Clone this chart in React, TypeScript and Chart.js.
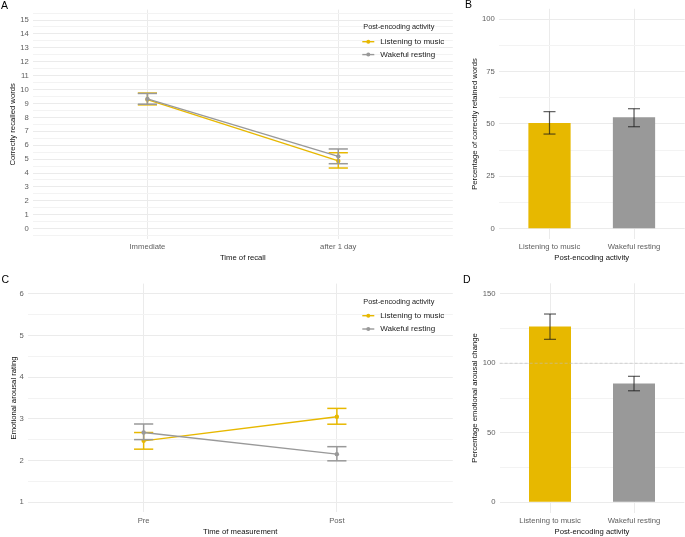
import React, { useEffect, useRef } from "react";
import { Chart, registerables } from "chart.js";

Chart.register(...registerables);

const FONT_FAMILY = "'Liberation Sans', Arial, Helvetica, sans-serif";
const YELLOW = "#E7B800";
const GREY = "#999999";
const MAJOR_GRID = "#EBEBEB";
const MINOR_GRID = "#F3F3F3";
const TICK_COLOR = "#5E5E5E";
const TITLE_COLOR = "#111111";

// Shared
const seriesNames = ["Listening to music", "Wakeful resting"];
const legendTitle = "Post-encoding activity";
const xCommonRange = [0.4, 2.6];

// Panel A – correctly recalled words
const recallTimes = ["Immediate", "after 1 day"];
const recallMusicMean = [9.28, 4.87];
const recallMusicLow = [8.9, 4.36];
const recallMusicHigh = [9.75, 5.46];
const recallRestMean = [9.33, 5.2];
const recallRestLow = [8.95, 4.67];
const recallRestHigh = [9.72, 5.73];
const recallTicks = [0, 1, 2, 3, 4, 5, 6, 7, 8, 9, 10, 11, 12, 13, 14, 15];

// Panel B – percentage of correctly retained words
const activityLabels = ["Listening to music", "Wakeful resting"];
const retainedMean = [50.5, 53.2];
const retainedLow = [45.2, 48.7];
const retainedHigh = [55.9, 57.3];
const retainedTicks = [0, 25, 50, 75, 100];

// Panel C – emotional arousal rating
const measureTimes = ["Pre", "Post"];
const arousalMusicMean = [2.47, 3.05];
const arousalMusicLow = [2.27, 2.87];
const arousalMusicHigh = [2.67, 3.25];
const arousalRestMean = [2.67, 2.15];
const arousalRestLow = [2.5, 1.99];
const arousalRestHigh = [2.875, 2.33];
const arousalTicks = [1, 2, 3, 4, 5, 6];

// Panel D – percentage emotional arousal change
const changeMean = [126.5, 85.5];
const changeLow = [117.2, 80.2];
const changeHigh = [135.4, 90.6];
const changeTicks = [0, 50, 100, 150];
const changeReference = 100;

type Box = {
  w: number;
  h: number;
  left: number;
  right: number;
  top: number;
  bottom: number;
  yTitlePad: number;
  xTitlePad: number;
};

function expandedRange(ticks: number[]): [number, number] {
  const lo = ticks[0];
  const hi = ticks[ticks.length - 1];
  const e = (hi - lo) * 0.05;
  return [lo - e, hi + e];
}

function gridValues(major: number[], min: number, max: number): number[] {
  const step = major[1] - major[0];
  const out = [...major];
  for (let v = major[0] - step / 2; v <= max; v += step) {
    if (v >= min) out.push(v);
  }
  return out.sort((a, b) => a - b);
}

function buildScales(box: Box, xLabels: string[], yMajor: number[], yTitle: string, xTitle: string) {
  const [ymin, ymax] = expandedRange(yMajor);
  const majorSet = new Set(yMajor);
  const font = { family: FONT_FAMILY, size: 7.7 };
  return {
    x: {
      type: "linear",
      min: xCommonRange[0],
      max: xCommonRange[1],
      offset: false,
      afterBuildTicks: (s: any) => {
        s.ticks = xLabels.map((_, i) => ({ value: i + 1 }));
      },
      afterFit: (s: any) => {
        s.height = box.h - box.bottom;
      },
      ticks: {
        callback: (v: any) => xLabels[Math.round(Number(v)) - 1] ?? "",
        color: TICK_COLOR,
        font,
        padding: 3.5,
        maxRotation: 0,
        autoSkip: false,
      },
      grid: { color: MAJOR_GRID, lineWidth: 1, drawTicks: false, offset: false },
      border: { display: false },
      title: {
        display: true,
        text: xTitle,
        color: TITLE_COLOR,
        font,
        padding: { top: 0, bottom: box.xTitlePad },
      },
    },
    y: {
      type: "linear",
      min: ymin,
      max: ymax,
      afterBuildTicks: (s: any) => {
        s.ticks = gridValues(yMajor, ymin, ymax).map((v) => ({ value: v }));
      },
      afterFit: (s: any) => {
        s.width = box.left;
      },
      ticks: {
        callback: (v: any) => (majorSet.has(Number(v)) ? String(v) : ""),
        color: TICK_COLOR,
        font,
        padding: 4,
        autoSkip: false,
      },
      grid: {
        color: (c: any) => (c.tick && majorSet.has(c.tick.value) ? MAJOR_GRID : MINOR_GRID),
        lineWidth: 1,
        drawTicks: false,
      },
      border: { display: false },
      title: {
        display: true,
        text: yTitle,
        color: TITLE_COLOR,
        font,
        padding: { top: box.yTitlePad, bottom: 0 },
      },
    },
  };
}

const errorBarPlugin = {
  id: "errorBars",
  afterDatasetDraw(chart: any, args: any) {
    const ds = chart.data.datasets[args.index];
    const eb = ds && ds.errorBars;
    if (!eb) return;
    const { ctx } = chart;
    const x = chart.scales.x;
    const y = chart.scales.y;
    ctx.save();
    ctx.strokeStyle = eb.color;
    ctx.lineWidth = eb.lineWidth;
    ds.data.forEach((p: any, j: number) => {
      const px = x.getPixelForValue(p.x);
      const pl = y.getPixelForValue(eb.low[j]);
      const ph = y.getPixelForValue(eb.high[j]);
      ctx.beginPath();
      ctx.moveTo(px, pl);
      ctx.lineTo(px, ph);
      ctx.stroke();
      ctx.beginPath();
      ctx.moveTo(px - eb.halfWidth, pl);
      ctx.lineTo(px + eb.halfWidth, pl);
      ctx.stroke();
      ctx.beginPath();
      ctx.moveTo(px - eb.halfWidth, ph);
      ctx.lineTo(px + eb.halfWidth, ph);
      ctx.stroke();
    });
    ctx.restore();
  },
};

function tagPlugin(letter: string, x: number, y: number) {
  return {
    id: "panelTag",
    afterDraw(chart: any) {
      const { ctx } = chart;
      ctx.save();
      ctx.fillStyle = "#000";
      ctx.font = `10.5px ${FONT_FAMILY}`;
      ctx.textAlign = "left";
      ctx.textBaseline = "alphabetic";
      ctx.fillText(letter, x, y);
      ctx.restore();
    },
  };
}

function legendPlugin(x: number, titleY: number, itemYs: number[], colors: string[]) {
  return {
    id: "panelLegend",
    afterDraw(chart: any) {
      const { ctx } = chart;
      ctx.save();
      ctx.textBaseline = "middle";
      ctx.textAlign = "left";
      ctx.fillStyle = "#222";
      ctx.font = `7.3px ${FONT_FAMILY}`;
      ctx.fillText(legendTitle, x, titleY);
      ctx.font = `8px ${FONT_FAMILY}`;
      seriesNames.forEach((name, i) => {
        const yy = itemYs[i];
        ctx.strokeStyle = colors[i];
        ctx.lineWidth = 1.4;
        ctx.beginPath();
        ctx.moveTo(x - 1, yy);
        ctx.lineTo(x + 11, yy);
        ctx.stroke();
        ctx.fillStyle = colors[i];
        ctx.beginPath();
        ctx.arc(x + 5, yy, 2, 0, Math.PI * 2);
        ctx.fill();
        ctx.fillStyle = "#222";
        ctx.fillText(name, x + 17, yy);
      });
      ctx.restore();
    },
  };
}

const referenceLinePlugin = {
  id: "referenceLine",
  afterDatasetsDraw(chart: any) {
    const { ctx, chartArea } = chart;
    const py = chart.scales.y.getPixelForValue(changeReference);
    ctx.save();
    ctx.strokeStyle = "rgba(190,190,190,0.6)";
    ctx.lineWidth = 1.1;
    ctx.setLineDash([3, 2]);
    ctx.beginPath();
    ctx.moveTo(chartArea.left, py);
    ctx.lineTo(chartArea.right, py);
    ctx.stroke();
    ctx.restore();
  },
};

function lineDataset(label: string, mean: number[], low: number[], high: number[], color: string, order: number) {
  return {
    type: "line",
    label,
    data: mean.map((v, i) => ({ x: i + 1, y: v })),
    borderColor: color,
    backgroundColor: color,
    borderWidth: 1.4,
    pointRadius: 2.2,
    pointBorderWidth: 0,
    pointHoverRadius: 0,
    order,
    errorBars: { low, high, color, lineWidth: 1.5, halfWidth: 9.6 },
  };
}

function barDataset(mean: number[], low: number[], high: number[]) {
  return {
    type: "bar",
    label: "mean",
    data: mean.map((v, i) => ({ x: i + 1, y: v })),
    backgroundColor: [YELLOW, GREY],
    borderWidth: 0,
    barPercentage: 0.5,
    categoryPercentage: 1,
    errorBars: { low, high, color: "rgba(25,25,25,0.7)", lineWidth: 1.2, halfWidth: 6 },
  };
}

function baseOptions(box: Box, scales: any) {
  return {
    responsive: false,
    maintainAspectRatio: false,
    animation: false,
    devicePixelRatio: 1,
    events: [],
    layout: { padding: { left: 0, top: box.top, right: box.w - box.right, bottom: 0 } },
    plugins: { legend: { display: false }, tooltip: { enabled: false } },
    scales,
  };
}

const boxA: Box = { w: 455, h: 265, left: 32.9, right: 453.8, top: 9.6, bottom: 239.1, yTitlePad: 8.4, xTitlePad: 2.4 };
const boxB: Box = { w: 230, h: 265, left: 43.8, right: 229.7, top: 8.8, bottom: 239.2, yTitlePad: 15.4, xTitlePad: 2.4 };
const boxC: Box = { w: 455, h: 272, left: 27.7, right: 455, top: 18.6, bottom: 247.4, yTitlePad: 9.2, xTitlePad: 0.7 };
const boxD: Box = { w: 230, h: 272, left: 44.6, right: 229.4, top: 18.3, bottom: 247.7, yTitlePad: 15.4, xTitlePad: 0.7 };

export default function App() {
  const refA = useRef<HTMLCanvasElement>(null);
  const refB = useRef<HTMLCanvasElement>(null);
  const refC = useRef<HTMLCanvasElement>(null);
  const refD = useRef<HTMLCanvasElement>(null);

  useEffect(() => {
    const charts: Chart[] = [];

    charts.push(
      new Chart(refA.current as HTMLCanvasElement, {
        type: "line",
        data: {
          datasets: [
            lineDataset(seriesNames[0], recallMusicMean, recallMusicLow, recallMusicHigh, YELLOW, 1),
            lineDataset(seriesNames[1], recallRestMean, recallRestLow, recallRestHigh, GREY, 0),
          ] as any,
        },
        options: baseOptions(boxA, buildScales(boxA, recallTimes, recallTicks, "Correctly recalled words", "Time of recall")) as any,
        plugins: [errorBarPlugin, legendPlugin(363.3, 27, [41.7, 54.6], [YELLOW, GREY]), tagPlugin("A", 1, 8.6)],
      })
    );

    charts.push(
      new Chart(refB.current as HTMLCanvasElement, {
        type: "bar",
        data: { datasets: [barDataset(retainedMean, retainedLow, retainedHigh)] as any },
        options: baseOptions(
          boxB,
          buildScales(boxB, activityLabels, retainedTicks, "Percentage of correctly retained words", "Post-encoding activity")
        ) as any,
        plugins: [errorBarPlugin, tagPlugin("B", 10, 8)],
      })
    );

    charts.push(
      new Chart(refC.current as HTMLCanvasElement, {
        type: "line",
        data: {
          datasets: [
            lineDataset(seriesNames[0], arousalMusicMean, arousalMusicLow, arousalMusicHigh, YELLOW, 1),
            lineDataset(seriesNames[1], arousalRestMean, arousalRestLow, arousalRestHigh, GREY, 0),
          ] as any,
        },
        options: baseOptions(boxC, buildScales(boxC, measureTimes, arousalTicks, "Emotional arousal rating", "Time of measurement")) as any,
        plugins: [errorBarPlugin, legendPlugin(363.3, 36.7, [50.7, 64], [YELLOW, GREY]), tagPlugin("C", 1.5, 18.3)],
      })
    );

    charts.push(
      new Chart(refD.current as HTMLCanvasElement, {
        type: "bar",
        data: { datasets: [barDataset(changeMean, changeLow, changeHigh)] as any },
        options: baseOptions(
          boxD,
          buildScales(boxD, activityLabels, changeTicks, "Percentage emotional arousal change", "Post-encoding activity")
        ) as any,
        plugins: [errorBarPlugin, referenceLinePlugin, tagPlugin("D", 8, 17.6)],
      })
    );

    return () => charts.forEach((c) => c.destroy());
  }, []);

  const cv = (left: number, top: number, b: Box): React.CSSProperties => ({
    position: "absolute",
    left,
    top,
    width: b.w,
    height: b.h,
  });

  return (
    <div style={{ position: "absolute", left: 0, top: 0, width: 685, height: 537, background: "#ffffff", overflow: "hidden" }}>
      <canvas ref={refA} width={boxA.w} height={boxA.h} style={cv(0, 0, boxA)} />
      <canvas ref={refB} width={boxB.w} height={boxB.h} style={cv(455, 0, boxB)} />
      <canvas ref={refC} width={boxC.w} height={boxC.h} style={cv(0, 265, boxC)} />
      <canvas ref={refD} width={boxD.w} height={boxD.h} style={cv(455, 265, boxD)} />
    </div>
  );
}
